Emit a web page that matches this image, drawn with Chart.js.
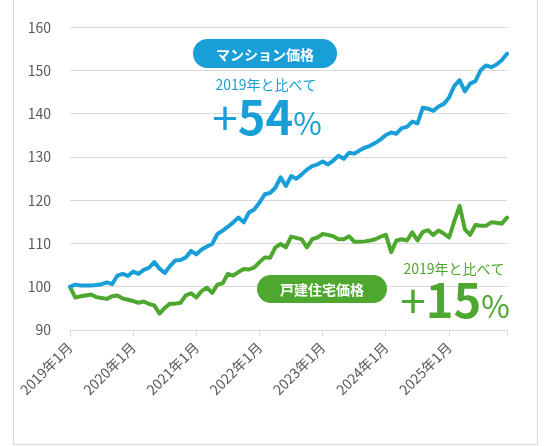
<!DOCTYPE html>
<html lang="ja">
<head>
<meta charset="utf-8">
<title>マンション価格・戸建住宅価格</title>
<script src="https://cdn.jsdelivr.net/npm/chart.js@4.4.1/dist/chart.umd.min.js"></script>
<style>
    html, body { margin: 0; padding: 0; background: #fff; }
    #wrap { position: relative; width: 550px; height: 446px; }
    #frame {
        position: absolute; left: 13px; top: 0; width: 523px; height: 444px;
        border: 1px solid #d9d9d9; border-top: none; box-sizing: content-box;
        pointer-events: none;
    }
    #chart { position: absolute; left: 0; top: 0; }
</style>
</head>
<body>
<div id="wrap">
    <div id="frame"></div>
    <canvas id="chart" width="550" height="446"></canvas>
</div>
<script>
// 期間 (2019年1月〜2025年12月, 月次)
const years = [2019, 2020, 2021, 2022, 2023, 2024, 2025];
const months = [1, 2, 3, 4, 5, 6, 7, 8, 9, 10, 11, 12];

// 指数 (2019年1月 = 100)
const mansionIndex = [
    100.0, 100.5, 100.3, 100.3, 100.3, 100.4, 100.6, 101.0, 100.6, 102.6, 103.0, 102.5,
    103.5, 103.0, 103.9, 104.4, 105.7, 104.2, 103.2, 104.8, 106.1, 106.2, 106.8, 108.3,
    107.5, 108.6, 109.3, 109.9, 112.2, 113.0, 113.9, 114.9, 116.0, 114.9, 117.2, 117.9,
    119.5, 121.4, 121.7, 122.9, 125.3, 123.3, 125.6, 125.0, 126.0, 127.1, 127.9, 128.3,
    129.0, 128.3, 129.2, 130.3, 129.6, 131.0, 130.8, 131.5, 132.2, 132.6, 133.3, 134.1,
    135.1, 135.7, 135.4, 136.7, 137.0, 138.2, 137.8, 141.4, 141.2, 140.7, 141.7, 142.3,
    143.8, 146.5, 147.8, 145.2, 147.0, 147.6, 150.1, 151.2, 150.8, 151.4, 152.4, 153.9
];
const houseIndex = [
    100.0, 97.5, 97.8, 98.0, 98.2, 97.6, 97.4, 97.2, 97.8, 98.0, 97.3, 97.0,
    96.7, 96.3, 96.6, 96.0, 95.7, 93.8, 95.1, 96.1, 96.1, 96.3, 98.0, 98.5,
    97.5, 99.0, 99.8, 98.6, 100.5, 100.8, 103.0, 102.6, 103.4, 104.1, 104.0, 104.5,
    105.7, 106.8, 106.7, 109.1, 109.9, 109.1, 111.6, 111.3, 111.0, 109.1, 111.0, 111.4,
    112.2, 112.0, 111.7, 111.0, 111.0, 111.7, 110.4, 110.4, 110.5, 110.7, 111.0, 111.6,
    112.0, 108.0, 110.7, 111.0, 110.7, 112.6, 110.7, 112.7, 113.1, 112.0, 113.0, 112.3,
    111.4, 115.2, 118.7, 113.3, 112.0, 114.3, 114.1, 114.1, 114.9, 114.8, 114.6, 116.0
];

// 縦軸
const yMin = 90;
const yMax = 160;
const yStep = 10;

const labels = [];
years.forEach(y => months.forEach(m => labels.push(y + '年' + m + '月')));

const BLUE = '#189fd8';
const GREEN = '#4ea72e';
const FONT = "'Noto Sans CJK JP', 'Noto Sans', sans-serif";

function roundRect(ctx, x, y, w, h, r) {
    ctx.beginPath();
    ctx.moveTo(x + r, y);
    ctx.lineTo(x + w - r, y);
    ctx.arc(x + w - r, y + r, r, -Math.PI / 2, Math.PI / 2);
    ctx.lineTo(x + r, y + h);
    ctx.arc(x + r, y + r, r, Math.PI / 2, Math.PI * 1.5);
    ctx.closePath();
}

function drawPill(ctx, x, y, w, h, color, text) {
    ctx.fillStyle = color;
    roundRect(ctx, x, y, w, h, h / 2);
    ctx.fill();
    ctx.fillStyle = '#fff';
    ctx.font = 'bold 14px ' + FONT;
    ctx.textAlign = 'center';
    ctx.textBaseline = 'middle';
    ctx.fillText(text, x + w / 2, y + h / 2 + 1);
}

function drawRate(ctx, cx, baseline, color, num) {
    const parts = [
        { t: '+', f: '400 46px ' + FONT },
        { t: num, f: 'bold 47px ' + FONT },
        { t: '%', f: '400 31px ' + FONT }
    ];
    let total = 0;
    parts.forEach(p => { ctx.font = p.f; p.w = ctx.measureText(p.t).width; total += p.w; });
    let x = cx - total / 2;
    ctx.fillStyle = color;
    ctx.textAlign = 'left';
    ctx.textBaseline = 'alphabetic';
    parts.forEach(p => { ctx.font = p.f; ctx.fillText(p.t, x, baseline); x += p.w; });
}

const calloutPlugin = {
    id: 'callouts',
    afterDatasetsDraw(chart) {
        const ctx = chart.ctx;
        ctx.save();
        // マンション
        drawPill(ctx, 193, 39, 144, 29, BLUE, 'マンション価格');
        ctx.fillStyle = BLUE;
        ctx.font = '14px ' + FONT;
        ctx.textAlign = 'center';
        ctx.textBaseline = 'middle';
        ctx.fillText('2019年と比べて', 266, 85);
        drawRate(ctx, 267, 135, BLUE, '54');
        // 戸建
        drawPill(ctx, 257, 275, 130, 28, GREEN, '戸建住宅価格');
        ctx.fillStyle = GREEN;
        ctx.font = '14px ' + FONT;
        ctx.textAlign = 'center';
        ctx.textBaseline = 'middle';
        ctx.fillText('2019年と比べて', 454, 269);
        drawRate(ctx, 455, 318, GREEN, '15');
        ctx.restore();
    }
};

new Chart(document.getElementById('chart'), {
    type: 'line',
    data: {
        labels: labels,
        datasets: [
            {
                label: 'マンション価格',
                data: mansionIndex,
                borderColor: BLUE,
                borderWidth: 4,
                pointRadius: 0,
                tension: 0,
                borderCapStyle: 'round',
                borderJoinStyle: 'round'
            },
            {
                label: '戸建住宅価格',
                data: houseIndex,
                borderColor: GREEN,
                borderWidth: 4,
                pointRadius: 0,
                tension: 0,
                borderCapStyle: 'round',
                borderJoinStyle: 'round'
            }
        ]
    },
    options: {
        responsive: false,
        animation: false,
        layout: {
            padding: { left: 0, right: 43, top: 25, bottom: 0 }
        },
        plugins: {
            legend: { display: false },
            tooltip: { enabled: false }
        },
        scales: {
            x: {
                offset: false,
                afterFit: function (scale) { scale.height = 116; },
                border: { display: true, color: '#d9d9d9', width: 1 },
                grid: {
                    drawOnChartArea: false,
                    drawTicks: true,
                    tickLength: 6,
                    color: '#d9d9d9'
                },
                ticks: {
                    autoSkip: false,
                    minRotation: 45,
                    maxRotation: 45,
                    padding: 3,
                    color: '#595959',
                    font: { size: 14, family: FONT },
                    callback: function (value, index) {
                        if (index % 12 === 0) return labels[index];
                        if (index === labels.length - 1) return '';
                        return null;
                    }
                }
            },
            y: {
                min: yMin,
                max: yMax,
                afterFit: function (scale) { scale.width = 70; },
                border: { display: false },
                grid: {
                    color: '#d9d9d9',
                    drawTicks: false
                },
                ticks: {
                    stepSize: yStep,
                    padding: 19,
                    color: '#595959',
                    font: { size: 14, family: FONT }
                }
            }
        }
    },
    plugins: [calloutPlugin]
});
</script>
</body>
</html>
